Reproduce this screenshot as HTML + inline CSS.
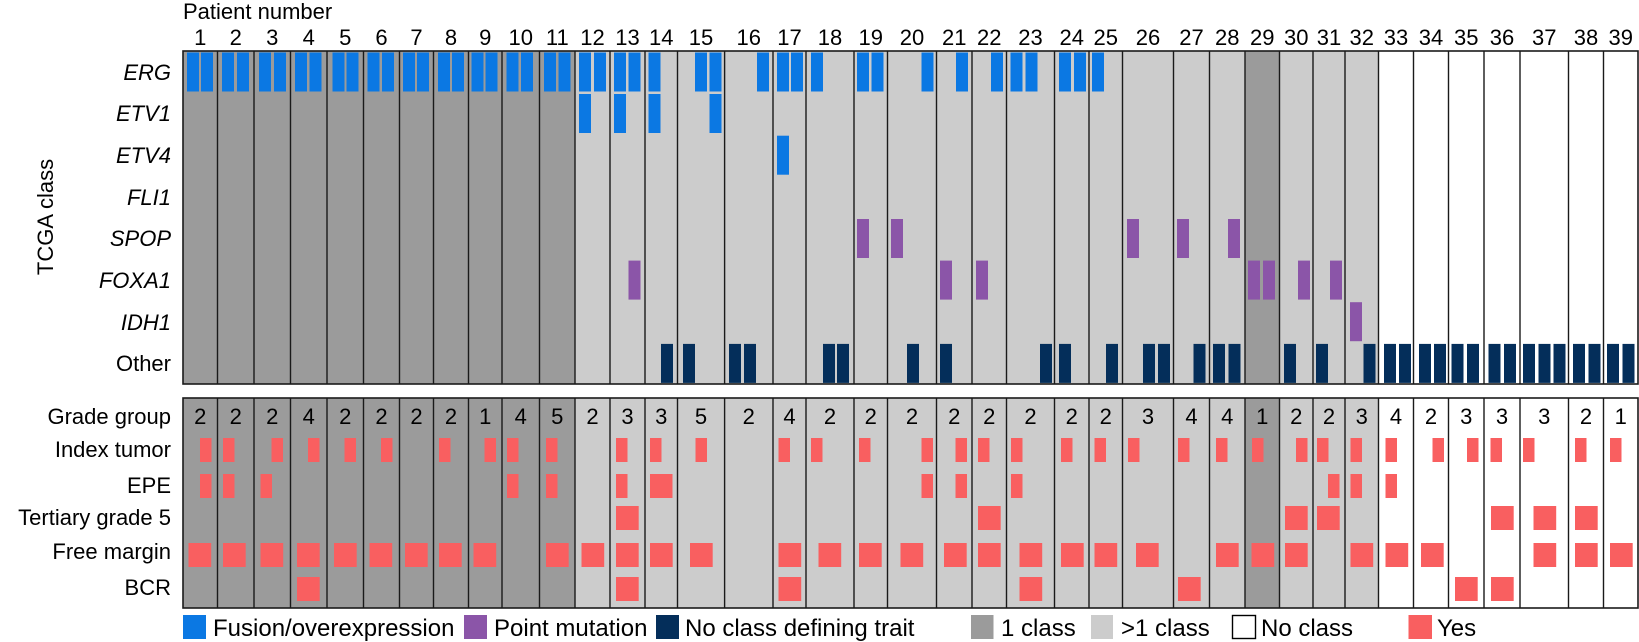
<!DOCTYPE html>
<html><head><meta charset="utf-8"><style>
html,body{margin:0;padding:0;background:#fff;}
svg{display:block;font-family:"Liberation Sans",Arial,sans-serif;}
</style></head><body>
<svg width="1639" height="642" viewBox="0 0 1639 642" xmlns="http://www.w3.org/2000/svg">
<!-- backgrounds top -->
<g>
<rect x="183" y="51" width="392" height="333" fill="#9b9b9b"/>
<rect x="575" y="51" width="670" height="333" fill="#cccccc"/>
<rect x="1245" y="51" width="34.5" height="333" fill="#9b9b9b"/>
<rect x="1279.5" y="51" width="99" height="333" fill="#cccccc"/>
<rect x="183" y="398" width="392" height="210" fill="#9b9b9b"/>
<rect x="575" y="398" width="670" height="210" fill="#cccccc"/>
<rect x="1245" y="398" width="34.5" height="210" fill="#9b9b9b"/>
<rect x="1279.5" y="398" width="99" height="210" fill="#cccccc"/>
</g>
<!-- ERG -->
<g fill="#0b78e3">
<rect x="187" y="52.5" width="12" height="39"/><rect x="201" y="52.5" width="12" height="39"/>
<rect x="222" y="52.5" width="12" height="39"/><rect x="237" y="52.5" width="12" height="39"/>
<rect x="259" y="52.5" width="12" height="39"/><rect x="274" y="52.5" width="12" height="39"/>
<rect x="295" y="52.5" width="12" height="39"/><rect x="309.5" y="52.5" width="12" height="39"/>
<rect x="332.5" y="52.5" width="12" height="39"/><rect x="346.5" y="52.5" width="12" height="39"/>
<rect x="367.5" y="52.5" width="12" height="39"/><rect x="382" y="52.5" width="12" height="39"/>
<rect x="403" y="52.5" width="12" height="39"/><rect x="417" y="52.5" width="12" height="39"/>
<rect x="438" y="52.5" width="12" height="39"/><rect x="452" y="52.5" width="12" height="39"/>
<rect x="471.5" y="52.5" width="12" height="39"/><rect x="485.5" y="52.5" width="12" height="39"/>
<rect x="506.5" y="52.5" width="12" height="39"/><rect x="521" y="52.5" width="12" height="39"/>
<rect x="544" y="52.5" width="12" height="39"/><rect x="558.5" y="52.5" width="12" height="39"/>
<rect x="579" y="52.5" width="12" height="39"/><rect x="594" y="52.5" width="12" height="39"/>
<rect x="614" y="52.5" width="12" height="39"/><rect x="628.5" y="52.5" width="12" height="39"/>
<rect x="648.5" y="52.5" width="12" height="39"/>
<rect x="695" y="52.5" width="12" height="39"/><rect x="709.5" y="52.5" width="12" height="39"/>
<rect x="757" y="52.5" width="12" height="39"/>
<rect x="777" y="52.5" width="12" height="39"/><rect x="791" y="52.5" width="12" height="39"/>
<rect x="811" y="52.5" width="12" height="39"/>
<rect x="857" y="52.5" width="12" height="39"/><rect x="871.5" y="52.5" width="12" height="39"/>
<rect x="921.5" y="52.5" width="12" height="39"/>
<rect x="956" y="52.5" width="12" height="39"/>
<rect x="991" y="52.5" width="12" height="39"/>
<rect x="1010.5" y="52.5" width="12" height="39"/><rect x="1025.5" y="52.5" width="12" height="39"/>
<rect x="1059" y="52.5" width="12" height="39"/><rect x="1074" y="52.5" width="12" height="39"/>
<rect x="1092" y="52.5" width="12" height="39"/>
<!-- ETV1 -->
<rect x="579" y="94" width="12" height="39"/><rect x="614" y="94" width="12" height="39"/>
<rect x="648.5" y="94" width="12" height="39"/><rect x="709.5" y="94" width="12" height="39"/>
<!-- ETV4 -->
<rect x="777" y="135.7" width="12" height="39"/>
</g>
<g fill="#8b55a8">
<!-- SPOP -->
<rect x="857" y="219" width="12" height="39"/>
<rect x="891" y="219" width="12" height="39"/>
<rect x="1127" y="219" width="12" height="39"/>
<rect x="1177" y="219" width="12" height="39"/>
<rect x="1228" y="219" width="12" height="39"/>
<!-- FOXA1 -->
<rect x="628.5" y="260.6" width="12" height="39"/>
<rect x="940" y="260.6" width="12" height="39"/>
<rect x="976" y="260.6" width="12" height="39"/>
<rect x="1248" y="260.6" width="12" height="39"/><rect x="1263" y="260.6" width="12" height="39"/>
<rect x="1298" y="260.6" width="12" height="39"/>
<rect x="1330" y="260.6" width="12" height="39"/>
<!-- IDH1 -->
<rect x="1350" y="302.2" width="12" height="39"/>
</g>
<g fill="#042e5a">
<rect x="661" y="343.9" width="12" height="39"/><rect x="683" y="343.9" width="12" height="39"/>
<rect x="729" y="343.9" width="12" height="39"/><rect x="744" y="343.9" width="12" height="39"/>
<rect x="823" y="343.9" width="12" height="39"/><rect x="837" y="343.9" width="12" height="39"/>
<rect x="907" y="343.9" width="12" height="39"/>
<rect x="940" y="343.9" width="12" height="39"/>
<rect x="1040" y="343.9" width="12" height="39"/><rect x="1059" y="343.9" width="12" height="39"/>
<rect x="1106" y="343.9" width="12" height="39"/>
<rect x="1143" y="343.9" width="12" height="39"/><rect x="1158" y="343.9" width="12" height="39"/>
<rect x="1193.5" y="343.9" width="12" height="39"/>
<rect x="1213" y="343.9" width="12" height="39"/><rect x="1228.5" y="343.9" width="12" height="39"/>
<rect x="1284" y="343.9" width="12" height="39"/>
<rect x="1316" y="343.9" width="12" height="39"/>
<rect x="1363.5" y="343.9" width="12" height="39"/>
<rect x="1384" y="343.9" width="12" height="39"/><rect x="1399" y="343.9" width="12" height="39"/>
<rect x="1419" y="343.9" width="12" height="39"/><rect x="1434" y="343.9" width="12" height="39"/>
<rect x="1451.5" y="343.9" width="12" height="39"/><rect x="1467" y="343.9" width="12" height="39"/>
<rect x="1488.5" y="343.9" width="12" height="39"/><rect x="1504" y="343.9" width="12" height="39"/>
<rect x="1523" y="343.9" width="12" height="39"/><rect x="1538.5" y="343.9" width="12" height="39"/><rect x="1553.5" y="343.9" width="12" height="39"/>
<rect x="1573" y="343.9" width="12" height="39"/><rect x="1588.5" y="343.9" width="12" height="39"/>
<rect x="1607" y="343.9" width="12" height="39"/><rect x="1622.5" y="343.9" width="12" height="39"/>
</g>
<!-- bottom panel red boxes -->
<g fill="#f95f60">
<!-- Index tumor y 438 -->
<rect x="200" y="438" width="11.5" height="24"/><rect x="223" y="438" width="11.5" height="24"/>
<rect x="271.5" y="438" width="11.5" height="24"/><rect x="308" y="438" width="11.5" height="24"/>
<rect x="344.5" y="438" width="11.5" height="24"/><rect x="381" y="438" width="11.5" height="24"/>
<rect x="439" y="438" width="11.5" height="24"/><rect x="484.5" y="438" width="11.5" height="24"/>
<rect x="507" y="438" width="11.5" height="24"/><rect x="546" y="438" width="11.5" height="24"/>
<rect x="616" y="438" width="11.5" height="24"/><rect x="650" y="438" width="11.5" height="24"/>
<rect x="695.5" y="438" width="11.5" height="24"/><rect x="778.5" y="438" width="11.5" height="24"/>
<rect x="811" y="438" width="11.5" height="24"/><rect x="859" y="438" width="11.5" height="24"/>
<rect x="921.5" y="438" width="11.5" height="24"/><rect x="955.5" y="438" width="11.5" height="24"/>
<rect x="978" y="438" width="11.5" height="24"/><rect x="1011" y="438" width="11.5" height="24"/>
<rect x="1061" y="438" width="11.5" height="24"/><rect x="1094.5" y="438" width="11.5" height="24"/>
<rect x="1128" y="438" width="11.5" height="24"/><rect x="1178" y="438" width="11.5" height="24"/>
<rect x="1216" y="438" width="11.5" height="24"/><rect x="1252" y="438" width="11.5" height="24"/>
<rect x="1296" y="438" width="11.5" height="24"/><rect x="1317" y="438" width="11.5" height="24"/>
<rect x="1350.5" y="438" width="11.5" height="24"/><rect x="1385.5" y="438" width="11.5" height="24"/>
<rect x="1432.5" y="438" width="11.5" height="24"/><rect x="1467" y="438" width="11.5" height="24"/>
<rect x="1490.5" y="438" width="11.5" height="24"/><rect x="1523" y="438" width="11.5" height="24"/>
<rect x="1575" y="438" width="11.5" height="24"/><rect x="1610" y="438" width="11.5" height="24"/>
<!-- EPE y 474 -->
<rect x="200" y="474" width="11.5" height="24"/><rect x="223" y="474" width="11.5" height="24"/>
<rect x="260.5" y="474" width="11.5" height="24"/><rect x="507" y="474" width="11.5" height="24"/>
<rect x="546" y="474" width="11.5" height="24"/><rect x="616" y="474" width="11.5" height="24"/>
<rect x="650" y="474" width="11.5" height="24"/><rect x="661.5" y="474" width="11" height="24"/>
<rect x="921.5" y="474" width="11.5" height="24"/><rect x="955.5" y="474" width="11.5" height="24"/>
<rect x="1011" y="474" width="11.5" height="24"/><rect x="1328" y="474" width="11.5" height="24"/>
<rect x="1350.5" y="474" width="11.5" height="24"/><rect x="1385.5" y="474" width="11.5" height="24"/>
<!-- Tertiary y 506 -->
<rect x="616" y="506" width="22.7" height="24"/><rect x="978" y="506" width="22.7" height="24"/>
<rect x="1285" y="506" width="22.7" height="24"/><rect x="1317" y="506" width="22.7" height="24"/>
<rect x="1491" y="506" width="22.7" height="24"/><rect x="1533.5" y="506" width="22.7" height="24"/>
<rect x="1575" y="506" width="22.7" height="24"/>
<!-- Free margin y 543 -->
<rect x="188.5" y="543" width="22.7" height="24"/><rect x="223" y="543" width="22.7" height="24"/>
<rect x="260.5" y="543" width="22.7" height="24"/><rect x="297" y="543" width="22.7" height="24"/>
<rect x="334" y="543" width="22.7" height="24"/><rect x="369.5" y="543" width="22.7" height="24"/>
<rect x="405" y="543" width="22.7" height="24"/><rect x="439" y="543" width="22.7" height="24"/>
<rect x="473.5" y="543" width="22.7" height="24"/><rect x="546" y="543" width="22.7" height="24"/>
<rect x="581.5" y="543" width="22.7" height="24"/><rect x="616" y="543" width="22.7" height="24"/>
<rect x="650" y="543" width="22.7" height="24"/><rect x="690" y="543" width="22.7" height="24"/>
<rect x="778.5" y="543" width="22.7" height="24"/><rect x="818.5" y="543" width="22.7" height="24"/>
<rect x="859" y="543" width="22.7" height="24"/><rect x="900.5" y="543" width="22.7" height="24"/>
<rect x="944" y="543" width="22.7" height="24"/><rect x="978" y="543" width="22.7" height="24"/>
<rect x="1019.5" y="543" width="22.7" height="24"/><rect x="1061" y="543" width="22.7" height="24"/>
<rect x="1094.5" y="543" width="22.7" height="24"/><rect x="1136" y="543" width="22.7" height="24"/>
<rect x="1216" y="543" width="22.7" height="24"/><rect x="1251.5" y="543" width="22.7" height="24"/>
<rect x="1285" y="543" width="22.7" height="24"/><rect x="1350.5" y="543" width="22.7" height="24"/>
<rect x="1385.5" y="543" width="22.7" height="24"/><rect x="1421" y="543" width="22.7" height="24"/>
<rect x="1533.5" y="543" width="22.7" height="24"/><rect x="1575" y="543" width="22.7" height="24"/>
<rect x="1610" y="543" width="22.7" height="24"/>
<!-- BCR y 577 -->
<rect x="297" y="577" width="22.7" height="24"/><rect x="616" y="577" width="22.7" height="24"/>
<rect x="778.5" y="577" width="22.7" height="24"/><rect x="1019.5" y="577" width="22.7" height="24"/>
<rect x="1178" y="577" width="22.7" height="24"/><rect x="1455" y="577" width="22.7" height="24"/>
<rect x="1491" y="577" width="22.7" height="24"/>
</g>
<!-- column dividers -->
<g stroke="#1a1a1a" stroke-width="1.4" fill="none">
<path d="M217.5 51V384M254 51V384M290.5 51V384M327 51V384M363.5 51V384M399.5 51V384M433.5 51V384M468.5 51V384M502 51V384M539.5 51V384M575 51V384M610 51V384M645 51V384M677.5 51V384M724.6 51V384M773 51V384M806 51V384M854 51V384M887.5 51V384M936.5 51V384M972 51V384M1006.5 51V384M1054.5 51V384M1089 51V384M1122.5 51V384M1173.5 51V384M1209.5 51V384M1245 51V384M1279.5 51V384M1313 51V384M1345 51V384M1378.5 51V384M1413.5 51V384M1448.5 51V384M1484 51V384M1520 51V384M1568.5 51V384M1603.5 51V384"/>
<path d="M217.5 398V608M254 398V608M290.5 398V608M327 398V608M363.5 398V608M399.5 398V608M433.5 398V608M468.5 398V608M502 398V608M539.5 398V608M575 398V608M610 398V608M645 398V608M677.5 398V608M724.6 398V608M773 398V608M806 398V608M854 398V608M887.5 398V608M936.5 398V608M972 398V608M1006.5 398V608M1054.5 398V608M1089 398V608M1122.5 398V608M1173.5 398V608M1209.5 398V608M1245 398V608M1279.5 398V608M1313 398V608M1345 398V608M1378.5 398V608M1413.5 398V608M1448.5 398V608M1484 398V608M1520 398V608M1568.5 398V608M1603.5 398V608"/>
<rect x="183" y="51" width="1455" height="333" stroke-width="1.6"/>
<rect x="183" y="398" width="1455" height="210" stroke-width="1.6"/>
</g>
<!-- text -->
<g font-size="22" fill="#000">
<text x="183" y="19">Patient number</text>
<g text-anchor="middle">
<text x="200.3" y="45">1</text><text x="235.8" y="45">2</text><text x="272.3" y="45">3</text><text x="308.8" y="45">4</text><text x="345.3" y="45">5</text><text x="381.5" y="45">6</text><text x="416.5" y="45">7</text><text x="451" y="45">8</text><text x="485.3" y="45">9</text><text x="520.8" y="45">10</text><text x="557.3" y="45">11</text><text x="592.5" y="45">12</text><text x="627.5" y="45">13</text><text x="661.3" y="45">14</text><text x="701" y="45">15</text><text x="748.8" y="45">16</text><text x="789.5" y="45">17</text><text x="830" y="45">18</text><text x="870.8" y="45">19</text><text x="912" y="45">20</text><text x="954.3" y="45">21</text><text x="989.3" y="45">22</text><text x="1030.5" y="45">23</text><text x="1071.8" y="45">24</text><text x="1105.8" y="45">25</text><text x="1148" y="45">26</text><text x="1191.5" y="45">27</text><text x="1227.3" y="45">28</text><text x="1262.3" y="45">29</text><text x="1296.3" y="45">30</text><text x="1329" y="45">31</text><text x="1361.8" y="45">32</text><text x="1396" y="45">33</text><text x="1431" y="45">34</text><text x="1466.3" y="45">35</text><text x="1502" y="45">36</text><text x="1544.3" y="45">37</text><text x="1586" y="45">38</text><text x="1620.8" y="45">39</text>
</g>
<g text-anchor="middle">
<text x="200.3" y="424">2</text><text x="235.8" y="424">2</text><text x="272.3" y="424">2</text><text x="308.8" y="424">4</text><text x="345.3" y="424">2</text><text x="381.5" y="424">2</text><text x="416.5" y="424">2</text><text x="451" y="424">2</text><text x="485.3" y="424">1</text><text x="520.8" y="424">4</text><text x="557.3" y="424">5</text><text x="592.5" y="424">2</text><text x="627.5" y="424">3</text><text x="661.3" y="424">3</text><text x="701" y="424">5</text><text x="748.8" y="424">2</text><text x="789.5" y="424">4</text><text x="830" y="424">2</text><text x="870.8" y="424">2</text><text x="912" y="424">2</text><text x="954.3" y="424">2</text><text x="989.3" y="424">2</text><text x="1030.5" y="424">2</text><text x="1071.8" y="424">2</text><text x="1105.8" y="424">2</text><text x="1148" y="424">3</text><text x="1191.5" y="424">4</text><text x="1227.3" y="424">4</text><text x="1262.3" y="424">1</text><text x="1296.3" y="424">2</text><text x="1329" y="424">2</text><text x="1361.8" y="424">3</text><text x="1396" y="424">4</text><text x="1431" y="424">2</text><text x="1466.3" y="424">3</text><text x="1502" y="424">3</text><text x="1544.3" y="424">3</text><text x="1586" y="424">2</text><text x="1620.8" y="424">1</text>
</g>
<g text-anchor="end">
<text x="171" y="80" font-style="italic">ERG</text>
<text x="171" y="121" font-style="italic">ETV1</text>
<text x="171" y="163" font-style="italic">ETV4</text>
<text x="171" y="205" font-style="italic">FLI1</text>
<text x="171" y="246" font-style="italic">SPOP</text>
<text x="171" y="288" font-style="italic">FOXA1</text>
<text x="171" y="330" font-style="italic">IDH1</text>
<text x="171" y="371">Other</text>
<text x="171" y="424">Grade group</text>
<text x="171" y="457">Index tumor</text>
<text x="171" y="493">EPE</text>
<text x="171" y="525">Tertiary grade 5</text>
<text x="171" y="559">Free margin</text>
<text x="171" y="595">BCR</text>
</g>
<text transform="translate(53,217) rotate(-90)" text-anchor="middle">TCGA class</text>
</g>
<!-- legend -->
<g font-size="24">
<rect x="183" y="615" width="23" height="24" fill="#0b78e3"/>
<text x="213" y="636">Fusion/overexpression</text>
<rect x="464" y="615" width="23" height="24" fill="#8b55a8"/>
<text x="494" y="636">Point mutation</text>
<rect x="656" y="615" width="23" height="24" fill="#042e5a"/>
<text x="685" y="636">No class defining trait</text>
<rect x="971" y="615" width="22.5" height="24" fill="#9b9b9b"/>
<text x="1001" y="636">1 class</text>
<rect x="1091" y="615" width="22" height="24" fill="#cccccc"/>
<text x="1121" y="636">&gt;1 class</text>
<rect x="1232.5" y="615.5" width="23" height="23" fill="#fff" stroke="#000" stroke-width="1.4"/>
<text x="1261" y="636">No class</text>
<rect x="1408.5" y="615" width="23.5" height="24" fill="#f95f60"/>
<text x="1437" y="636">Yes</text>
</g>
</svg>
</body></html>
